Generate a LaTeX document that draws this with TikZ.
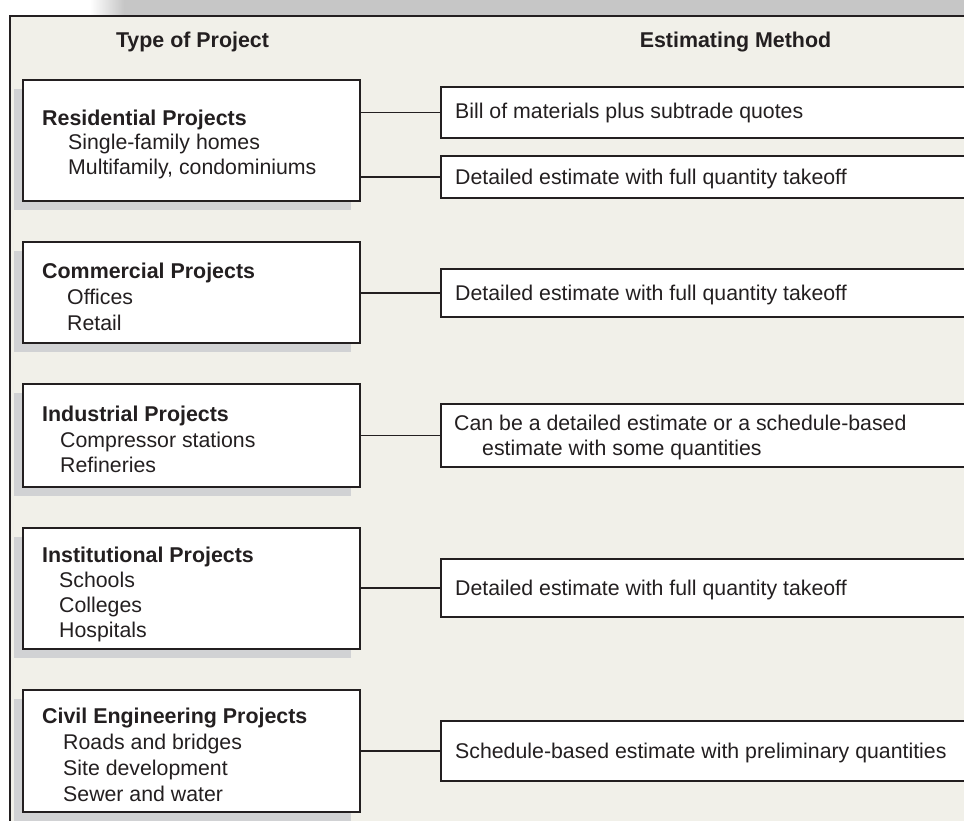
\documentclass[tikz,border=0pt]{standalone}
\usepackage{fontspec}
\setmainfont{Liberation Sans}
\definecolor{panelc}{HTML}{F1F0E9}
\definecolor{shadowc}{HTML}{D1D2D4}
\definecolor{bandc}{HTML}{C6C6C6}
\definecolor{inkc}{HTML}{231F20}
\tikzset{
  lbox/.style={draw=inkc, fill=white, line width=2.8pt, inner sep=0pt, outer sep=0pt, minimum width=337pt},
  rbox/.style={draw=inkc, fill=white, line width=2.5pt, inner sep=0pt, outer sep=0pt, minimum width=560pt, anchor=west},
  conn/.style={draw=inkc, line width=1.7pt},
  hd/.style={font=\fontsize{21.4}{25}\selectfont\bfseries, text=inkc, inner sep=0pt, anchor=base},
  lhd/.style={font=\fontsize{21.4}{25}\selectfont\bfseries, text=inkc, inner sep=0pt, anchor=base west},
  item/.style={font=\fontsize{21.3}{25}\selectfont, text=inkc, inner sep=0pt, anchor=base west},
}
\newcommand\LBox[3]{%
  \fill[shadowc] (14,#2+9) rectangle (351,#3+9);
  \node[lbox, minimum height={#3-#2}] (#1) at (191.5,{(#2+#3)/2}) {};
}
\newcommand\RBox[3]{%
  \node[rbox, minimum height={#3-#2}] (#1) at (441,{(#2+#3)/2}) {};
}
\begin{document}
\begin{tikzpicture}[x=1pt,y=-1pt]
\useasboundingbox (0,0) rectangle (964,821);
\clip (0,0) rectangle (964,821);
% background panel
\fill[white] (0,0) rectangle (964,821);
\shade[left color=white, right color=bandc] (90,0) rectangle (124,16);
\fill[bandc] (124,0) rectangle (964,16);
\fill[panelc] (10,16) rectangle (970,830);
\draw[draw=inkc, line width=2.2pt] (10,830) -- (10,16) -- (970,16);
% headers
\node[hd] (h1) at (192.5,48) {Type of Project};
\node[hd] (h2) at (735.5,48) {Estimating Method};
% left boxes
\LBox{l1}{80}{201}
\LBox{l2}{242}{343}
\LBox{l3}{384}{487}
\LBox{l4}{528}{649}
\LBox{l5}{690}{812}
% right boxes
\RBox{r1}{87}{138}
\RBox{r2}{156}{198}
\RBox{r3}{269}{317}
\RBox{r4}{404}{467}
\RBox{r5}{559}{617}
\RBox{r6}{721}{781}
% connectors
\draw[conn] (l1.east |- r1.west) -- (r1.west);
\draw[conn] (l1.east |- r2.west) -- (r2.west);
\draw[conn] (l2.east |- r3.west) -- (r3.west);
\draw[conn] (l3.east |- r4.west) -- (r4.west);
\draw[conn] (l4.east |- r5.west) -- (r5.west);
\draw[conn] (l5.east |- r6.west) -- (r6.west);
% left texts
\node[lhd] (t1a) at (42,126) {Residential Projects};
\node[item] (t1b) at (68,150) {Single-family homes};
\node[item] (t1c) at (68,175) {Multifamily, condominiums};
\node[lhd] (t2a) at (42,279) {Commercial Projects};
\node[item] (t2b) at (67,304) {Offices};
\node[item] (t2c) at (67,330) {Retail};
\node[lhd] (t3a) at (42,421) {Industrial Projects};
\node[item] (t3b) at (60,447) {Compressor stations};
\node[item] (t3c) at (60,472) {Refineries};
\node[lhd] (t4a) at (42,562) {Institutional Projects};
\node[item] (t4b) at (59,587) {Schools};
\node[item] (t4c) at (59,612) {Colleges};
\node[item] (t4d) at (59,637) {Hospitals};
\node[lhd] (t5a) at (42,723) {Civil Engineering Projects};
\node[item] (t5b) at (63,749) {Roads and bridges};
\node[item] (t5c) at (63,775) {Site development};
\node[item] (t5d) at (63,801) {Sewer and water};
% right texts
\node[item] (s1) at (455,119) {Bill of materials plus subtrade quotes};
\node[item] (s2) at (455,185) {Detailed estimate with full quantity takeoff};
\node[item] (s3) at (455,300) {Detailed estimate with full quantity takeoff};
\node[item] (s4a) at (454,430) {Can be a detailed estimate or a schedule-based};
\node[item] (s4b) at (482,455) {estimate with some quantities};
\node[item] (s5) at (455,595) {Detailed estimate with full quantity takeoff};
\node[item] (s6) at (455,758) {Schedule-based estimate with preliminary quantities};
\end{tikzpicture}
\end{document}
